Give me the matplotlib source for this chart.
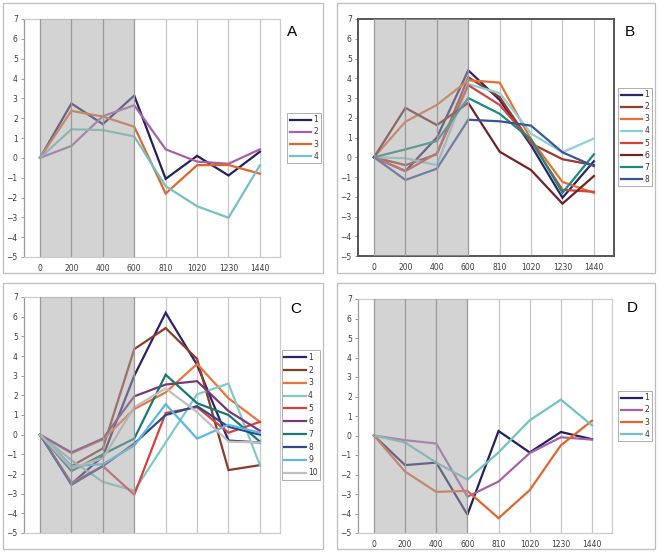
import matplotlib.pyplot as plt
from matplotlib.patches import Rectangle
from matplotlib.lines import Line2D

#-------------Data:

times = ["0", "200", "400", "600", "810", "1020", "1230", "1440"]
y_ticks = list(range(-5, 8))

# panel A
a_labels = ["1", "2", "3", "4"]
a1 = [0, 2.74, 1.70, 3.14, -1.06, 0.10, -0.89, 0.31]
a2 = [0, 0.60, 2.10, 2.65, 0.43, -0.19, -0.30, 0.43]
a3 = [0, 2.37, 2.08, 1.57, -1.80, -0.37, -0.36, -0.80]
a4 = [0, 1.44, 1.40, 1.08, -1.43, -2.44, -3.02, -0.38]
a_colors = ["#241f5e", "#a562a8", "#e2662c", "#72c2c3"]

# panel B
b_labels = ["1", "2", "3", "4", "5", "6", "7", "8"]
b1 = [0, -0.70, 1.00, 4.40, 2.90, 0.60, -2.05, -0.20]
b2 = [0, -0.40, 0.15, 4.05, 3.05, 0.70, -0.10, -0.40]
b3 = [0, 1.80, 2.65, 3.90, 3.78, 0.90, -1.25, -1.80]
b4 = [0, -0.05, -0.40, 3.70, 3.25, 1.20, 0.25, 0.95]
b5 = [0, -0.70, 0.20, 3.65, 2.65, 0.80, -1.65, -1.75]
b6 = [0, 2.50, 1.63, 2.75, 0.28, -0.65, -2.35, -0.95]
b7 = [0, 0.40, 0.82, 3.00, 2.20, 0.90, -1.80, 0.15]
b8 = [0, -1.15, -0.58, 1.90, 1.82, 1.60, 0.25, -0.45]
b_colors = ["#2a2468", "#9a3a2a", "#e4712e", "#8fcfd6",
            "#d2453a", "#6e2424", "#1d8a80", "#3b559a"]

# panel C
c_labels = ["1", "2", "3", "4", "5", "6", "7", "8", "9", "10"]
c1 = [0, -2.50, -1.10, 3.00, 6.20, 3.55, -0.30, -0.40]
c2 = [0, -1.60, -0.70, 4.35, 5.42, 3.85, -1.80, -1.55]
c3 = [0, -0.95, -0.25, 1.30, 2.15, 3.60, 1.85, 0.65]
c4 = [0, -1.30, -2.40, -2.85, -0.40, 2.05, 2.60, -1.55]
c5 = [0, -2.45, -1.60, -3.05, 1.10, 1.40, 0.10, 0.65]
c6 = [0, -0.90, -0.20, 1.95, 2.55, 2.72, 1.20, 0.20]
c7 = [0, -1.85, -1.00, -0.20, 3.05, 1.60, 1.00, -0.35]
c8 = [0, -2.55, -1.60, -0.45, 1.00, 1.45, 0.40, 0.00]
c9 = [0, -1.60, -1.50, -0.55, 1.55, -0.20, 0.50, 0.10]
c10 = [0, -1.70, -1.20, 1.40, 2.35, 1.15, -0.35, -0.40]
c_colors = ["#29236a", "#8e3a28", "#e8763a", "#80c9c8", "#d8423a",
            "#7a3878", "#1a7a70", "#2e4a8c", "#5cb8e2", "#c0c0c0"]

# panel D
d_labels = ["1", "2", "3", "4"]
d1 = [0, -1.52, -1.39, -4.06, 0.23, -0.87, 0.18, -0.19]
d2 = [0, -0.24, -0.41, -3.14, -2.36, -0.90, -0.09, -0.21]
d3 = [0, -1.85, -2.89, -2.84, -4.24, -2.80, -0.50, 0.76]
d4 = [0, -0.36, -1.39, -2.26, -0.87, 0.78, 1.84, 0.52]
d_colors = ["#241f5e", "#a562a8", "#e2662c", "#72c2c3"]

#-------------Figure:

W, H = 661, 552
fig = plt.figure(figsize=(W / 100, H / 100), dpi=100, facecolor='white')

def px(x0, y0, x1, y1):
    # pixel box -> figure fraction [left, bottom, width, height]
    return [x0 / W, 1 - y1 / H, (x1 - x0) / W, (y1 - y0) / H]

def panel(box, series, colors, labels, letter, letter_xy, leg_xy, show_x=True,
          dark=False, spacing=0.4):
    ax = fig.add_axes(px(*box))
    idx = list(range(len(times)))
    for s, c, l in zip(series, colors, labels):
        ax.plot(idx, s, color=c, lw=1.6, label=l, zorder=2, solid_joinstyle='miter')
    # shaded dark period, drawn over the lines so they look faded
    ax.axvspan(0, 3, color='#a9a9ab', alpha=0.5, lw=0, zorder=3)
    for i in idx:
        if i <= 3:
            ax.axvline(i, color='#9a9a9a', lw=0.9, zorder=4)
        else:
            ax.axvline(i, color='#c6c6c6', lw=0.9, zorder=1)
    ax.set_xlim(-0.51, 7.64)
    ax.set_ylim(-5, 7)
    ax.set_yticks(y_ticks)
    ax.set_xticks(idx)
    if show_x:
        ax.set_xticklabels(times)
    else:
        ax.set_xticklabels([])
    ax.tick_params(axis='y', length=2.5, width=0.6, color='#888888', labelsize=5.5,
                   labelcolor='#3a3a3a', pad=2)
    ax.tick_params(axis='x', length=0, labelsize=5.5, labelcolor='#3a3a3a', pad=5)
    for sp in ax.spines.values():
        sp.set_color('#cccccc')
        sp.set_linewidth(0.9)
    ax.spines['left'].set_color('#999999')
    if dark:
        for k in ['top', 'right', 'bottom', 'left']:
            ax.spines[k].set_color('#555555')
            ax.spines[k].set_linewidth(1.4)
    fig.text(letter_xy[0] / W, 1 - letter_xy[1] / H, letter, fontsize=11,
             family='Liberation Sans', ha='center', va='center')
    handles = [Line2D([], [], color=c, lw=1.6) for c in colors]
    leg = fig.legend(handles, labels, loc='center',
                     bbox_to_anchor=(leg_xy[0] / W, 1 - leg_xy[1] / H),
                     fontsize=5.5, frameon=True, fancybox=False, handlelength=2.8,
                     handletextpad=0.3, labelspacing=spacing, borderpad=0.35,
                     borderaxespad=0)
    leg.get_frame().set_edgecolor('#999999')
    leg.get_frame().set_linewidth(0.7)
    for t in leg.get_texts():
        t.set_color('#333333')
    return ax

# outer frames around each panel
for box in [(3, 3, 323, 273), (337, 3, 655, 273), (3, 283, 323, 549), (337, 283, 655, 549)]:
    l, b, w, h = px(*box)
    fig.patches.append(Rectangle((l, b), w, h, transform=fig.transFigure,
                                 fill=False, edgecolor='#bdbdbd', lw=0.9))

panel((24, 19, 280, 257), [a1, a2, a3, a4], a_colors, a_labels, "A", (292, 32), (304, 138))
panel((358, 19, 614, 256), [b1, b2, b3, b4, b5, b6, b7, b8], b_colors, b_labels,
      "B", (630, 32), (635, 137), dark=True)
panel((24, 297, 280, 533), [c1, c2, c3, c4, c5, c6, c7, c8, c9, c10], c_colors, c_labels,
      "C", (296, 309), (301, 415), show_x=False, spacing=0.5)
panel((358, 299, 612, 533), [d1, d2, d3, d4], d_colors, d_labels, "D", (632, 308), (635, 416))

fig.savefig('out.png', dpi=100)
